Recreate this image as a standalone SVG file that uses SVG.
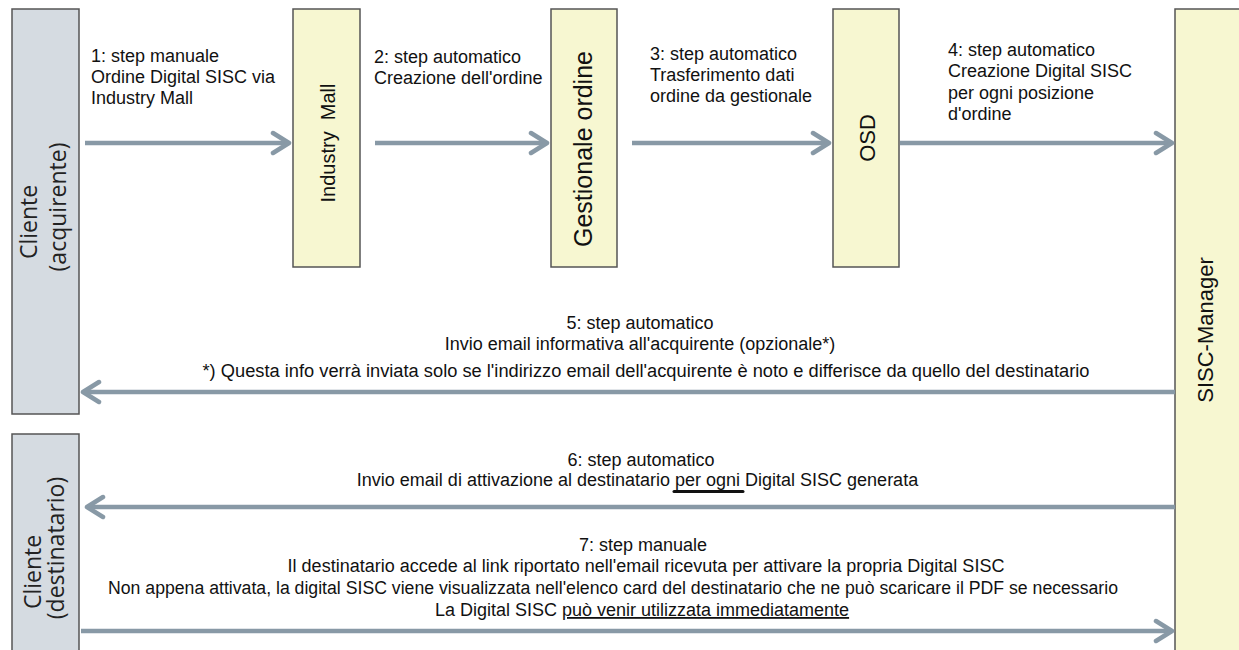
<svg xmlns="http://www.w3.org/2000/svg" width="1239" height="650" viewBox="0 0 1239 650">
  <style>
    .actor { fill: #d5dbe1; stroke: #555; stroke-width: 1.5; }
    .sys { fill: #f7f7d1; stroke: #555; stroke-width: 1.5; }
    .lbl { font-family: "Liberation Sans", Arial, sans-serif; font-size: 18px; fill: #111; }
    .vlbl { font-family: "Liberation Sans", Arial, sans-serif; fill: #111; text-anchor: middle; }
    .alab { font-family: "Open Sans", "Liberation Sans", sans-serif; font-size: 23px; fill: #222; text-anchor: middle; }
    .mid { text-anchor: middle; }
    .conn { stroke: #8899a6; stroke-width: 4.5; fill: none; marker-end: url(#chev); }
  </style>
  <defs>
    <marker id="chev" markerUnits="userSpaceOnUse" markerWidth="24" markerHeight="28" viewBox="-21 -14 24 28" refX="0" refY="0" orient="auto">
      <path d="M-16 -10 L0 0 L-16 10" fill="none" stroke="#8899a6" stroke-width="4.5" stroke-linecap="round" stroke-linejoin="round"/>
    </marker>
  </defs>
  <rect width="1239" height="650" fill="#ffffff"/>

  <g id="cliente-acquirente">
    <rect class="actor" x="12" y="9" width="67" height="405"/>
    <text class="alab" transform="translate(37,222) rotate(-90)">Cliente</text>
    <text class="alab" transform="translate(66,207) rotate(-90)">(acquirente)</text>
  </g>

  <g id="cliente-destinatario">
    <rect class="actor" x="12" y="434" width="67" height="230"/>
    <text class="alab" transform="translate(41,572) rotate(-90)">Cliente</text>
    <text class="alab" transform="translate(64,548) rotate(-90)">(destinatario)</text>
  </g>

  <g id="industry-mall">
    <rect class="sys" x="293" y="9" width="67" height="258"/>
    <text class="vlbl" font-size="20" xml:space="preserve" transform="translate(335,143) rotate(-90)">Industry  Mall</text>
  </g>

  <g id="gestionale-ordine">
    <rect class="sys" x="551" y="9" width="66" height="258"/>
    <text class="vlbl" font-size="25" transform="translate(592,149) rotate(-90)">Gestionale ordine</text>
  </g>

  <g id="osd">
    <rect class="sys" x="833" y="9" width="66" height="258"/>
    <text class="vlbl" font-size="22" transform="translate(875,138) rotate(-90)">OSD</text>
  </g>

  <g id="sisc-manager">
    <rect class="sys" x="1175" y="9" width="80" height="660"/>
    <text class="vlbl" font-size="22" transform="translate(1213,330) rotate(-90)">SISC-Manager</text>
  </g>

  <g id="connectors">
    <path class="conn" d="M85 143 H289"/>
    <path class="conn" d="M375 143 H547"/>
    <path class="conn" d="M632 143 H829"/>
    <path class="conn" d="M900 143 H1172"/>
    <path class="conn" d="M1175 392 H83"/>
    <path class="conn" d="M1175 507 H87"/>
    <path class="conn" d="M81 631 H1172"/>
  </g>

  <g id="labels">
    <text class="lbl" x="91" y="62">1: step manuale</text>
    <text class="lbl" x="91" y="83">Ordine Digital SISC via</text>
    <text class="lbl" x="91" y="104">Industry Mall</text>

    <text class="lbl" x="374" y="63">2: step automatico</text>
    <text class="lbl" x="374" y="84">Creazione dell'ordine</text>

    <text class="lbl" x="650" y="60">3: step automatico</text>
    <text class="lbl" x="650" y="81">Trasferimento dati</text>
    <text class="lbl" x="650" y="102">ordine da gestionale</text>

    <text class="lbl" x="948" y="56">4: step automatico</text>
    <text class="lbl" x="948" y="77">Creazione Digital SISC</text>
    <text class="lbl" x="948" y="99">per ogni posizione</text>
    <text class="lbl" x="948" y="120">d'ordine</text>

    <text class="lbl mid" x="640" y="329">5: step automatico</text>
    <text class="lbl mid" x="640" y="350">Invio email informativa all'acquirente (opzionale*)</text>
    <text class="lbl mid" x="646" y="377" textLength="887" lengthAdjust="spacingAndGlyphs">*) Questa info verrà inviata solo se l'indirizzo email dell'acquirente è noto e differisce da quello del destinatario</text>

    <text class="lbl mid" x="641" y="466">6: step automatico</text>
    <text class="lbl mid" x="637.5" y="486">Invio email di attivazione al destinatario per ogni Digital SISC generata</text>
    <line x1="674" y1="491.5" x2="743" y2="491.5" stroke="#111" stroke-width="3" stroke-linecap="round"/>

    <text class="lbl mid" x="643" y="551">7: step manuale</text>
    <text class="lbl mid" x="646" y="572">Il destinatario accede al link riportato nell'email ricevuta per attivare la propria Digital SISC</text>
    <text class="lbl mid" x="613" y="594" textLength="1010" lengthAdjust="spacingAndGlyphs">Non appena attivata, la digital SISC viene visualizzata nell'elenco card del destinatario che ne può scaricare il PDF se necessario</text>
    <text class="lbl mid" x="642" y="616">La Digital SISC <tspan text-decoration="underline">può venir utilizzata immediatamente</tspan></text>
  </g>
</svg>
